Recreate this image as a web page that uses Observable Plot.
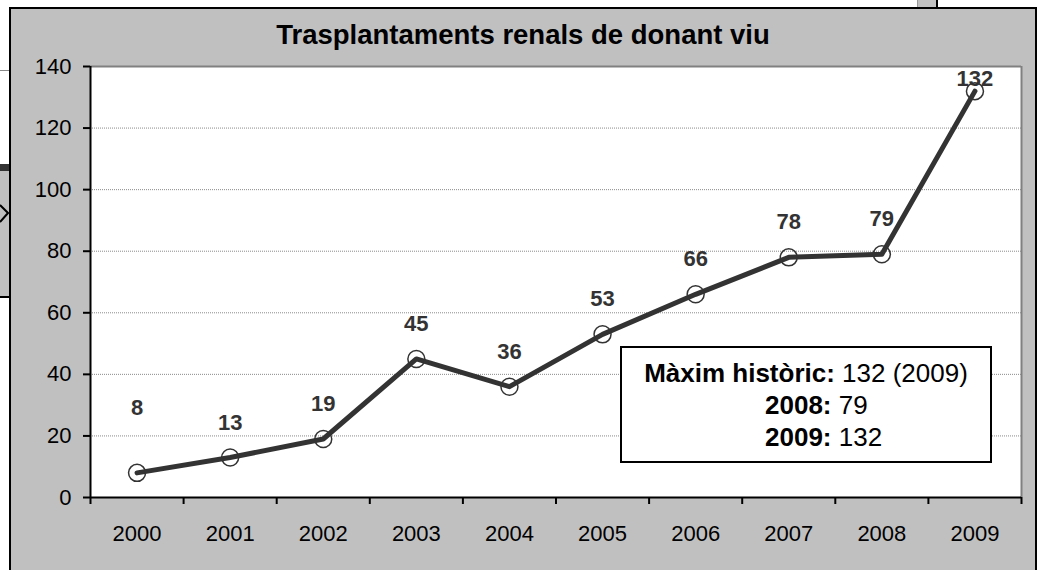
<!DOCTYPE html>
<html>
<head>
<meta charset="utf-8">
<script src="https://cdn.jsdelivr.net/npm/d3@7"></script>
<script src="https://cdn.jsdelivr.net/npm/@observablehq/plot@0.6"></script>
<style>
  html, body { margin: 0; padding: 0; background: #fff; }
  body { width: 1038px; height: 570px; overflow: hidden; position: relative; font-family: "Liberation Sans", Arial, sans-serif; }
  #grayBox { position: absolute; left: 9px; top: 7px; width: 1028px; height: 600px; box-sizing: border-box; background: #c0c0c0; border: 2px solid #000; }
  #title { position: absolute; left: 9px; top: 21px; width: 1028px; text-align: center; font-size: 27.5px; line-height: 27px; font-weight: bold; color: #000; }
  #chart { position: absolute; left: 0; top: 0; }
  #note { position: absolute; left: 620px; top: 346px; width: 372px; height: 117px; box-sizing: border-box; border: 2px solid #000; background: #fff; font-size: 26px; line-height: 32px; padding-top: 9px; color: #000; }
  #note .c { text-align: center; white-space: nowrap; }
  #note .l { padding-left: 143px; white-space: nowrap; }
  #leftArt { position: absolute; left: 0; top: 164px; width: 9px; height: 134px; box-sizing: border-box; background: #c0c0c0; border-top: 7px solid #333; border-bottom: 2px solid #000; }
  #leftLine { position: absolute; left: 0; top: 70px; width: 9px; height: 1px; background: #888; }
  #topArt { position: absolute; left: 917px; top: 0; width: 21px; height: 8px; box-sizing: border-box; background: #c0c0c0; border-left: 1px solid #999; border-right: 2px solid #000; }
</style>
</head>
<body>
<div id="leftLine"></div>
<div id="topArt"></div>
<div id="grayBox"></div>
<div id="leftArt"><svg width="9" height="127" style="position:absolute;left:0;top:0"><polyline points="0,34 8,42 0,51" fill="none" stroke="#000" stroke-width="2"/></svg></div>
<div id="title"></div>
<div id="chart"></div>
<div id="note"></div>
<script>
const title = "Trasplantaments renals de donant viu";
const years = [2000, 2001, 2002, 2003, 2004, 2005, 2006, 2007, 2008, 2009];
const values = [8, 13, 19, 45, 36, 53, 66, 78, 79, 132];
const yTicks = [0, 20, 40, 60, 80, 100, 120, 140];
const noteLines = [
  ["Màxim històric:", " 132 (2009)"],
  ["2008:", " 79"],
  ["2009:", " 132"]
];

document.getElementById("title").textContent = title;
const note = document.getElementById("note");
noteLines.forEach((ln, i) => {
  const div = document.createElement("div");
  div.className = i === 0 ? "c" : "l";
  const b = document.createElement("b");
  b.textContent = ln[0];
  div.appendChild(b);
  div.appendChild(document.createTextNode(ln[1]));
  note.appendChild(div);
});

const data = years.map((year, i) => ({year, value: values[i]}));
const bounds = years.map(y => y - 0.5).concat([years[years.length - 1] + 0.5]);
const first = years[0], last = years[years.length - 1];

const chart = Plot.plot({
  width: 1038,
  height: 570,
  marginLeft: 90,
  marginRight: 17,
  marginTop: 66,
  marginBottom: 73,
  style: {background: "transparent", fontFamily: "'Liberation Sans', Arial, sans-serif", fontSize: "22px", color: "#000", overflow: "visible"},
  x: {domain: [first - 0.5, last + 0.5], axis: null},
  y: {domain: [0, 140], axis: null},
  marks: [
    Plot.frame({fill: "#fff", stroke: "none"}),
    Plot.gridY({ticks: yTicks.slice(1, -1), stroke: "#8a8a8a", strokeOpacity: 1, strokeDasharray: "1,1"}),
    Plot.ruleY([yTicks[yTicks.length - 1]], {stroke: "#808080", strokeWidth: 2}),
    Plot.ruleX([last + 0.5], {stroke: "#808080", strokeWidth: 2}),
    Plot.axisY({ticks: yTicks, tickSize: 7, tickPadding: 12, strokeWidth: 2, fontSize: 22, label: null, tickFormat: d => String(d)}),
    Plot.ruleX([first - 0.5], {stroke: "#000", strokeWidth: 2}),
    Plot.ruleY([0], {stroke: "#000", strokeWidth: 2}),
    Plot.axisX({ticks: bounds, tickSize: 7, strokeWidth: 2, label: null, tickFormat: () => ""}),
    Plot.axisX({ticks: years, tickSize: 0, tickPadding: 28, fontSize: 22, label: null, tickFormat: d => String(d)}),
    Plot.line(data, {x: "year", y: "value", stroke: "#333", strokeWidth: 5}),
    Plot.dot(data, {x: "year", y: "value", r: 8.5, stroke: "#333", strokeWidth: 1.5, fill: "none"}),
    Plot.text(data.filter(d => d.year !== first && d.year !== last), {x: "year", y: "value", text: d => String(d.value), dy: -35, fontWeight: "bold", fill: "#333", fontSize: 22}),
    Plot.text(data.filter(d => d.year === first), {x: "year", y: "value", text: d => String(d.value), dy: -65, fontWeight: "bold", fill: "#333", fontSize: 22}),
    Plot.text(data.filter(d => d.year === last), {x: "year", y: "value", text: d => String(d.value), dy: -12, fontWeight: "bold", fill: "#333", fontSize: 22})
  ]
});
document.getElementById("chart").appendChild(chart);
</script>
</body>
</html>
